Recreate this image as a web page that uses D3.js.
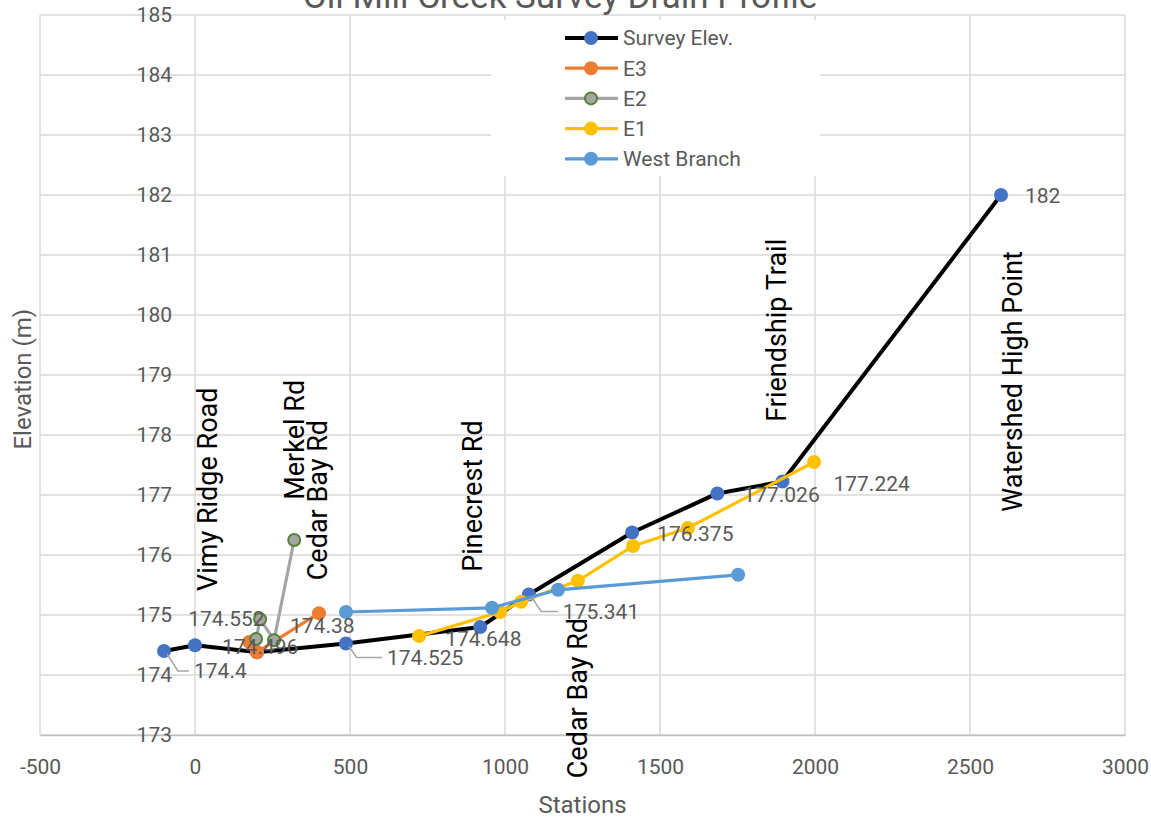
<!DOCTYPE html>
<html><head><meta charset="utf-8">
<script src="https://cdn.jsdelivr.net/npm/d3@7"></script>
<style>
html,body{margin:0;padding:0;background:#fff;}
svg text{font-family:Roboto, "Liberation Sans", sans-serif;}
</style></head>
<body>
<svg id="chart" width="1151" height="825"></svg>
<script>
// ---------- data ----------
const title = "Oil Mill Creek Survey Drain Profile";
const xTicks = [-500, 0, 500, 1000, 1500, 2000, 2500, 3000];
const yTicks = [173, 174, 175, 176, 177, 178, 179, 180, 181, 182, 183, 184, 185];

const surveyX = [-100, 0, 200, 487, 920, 1077, 1410, 1685, 1895, 2600];
const surveyY = [174.4, 174.496, 174.38, 174.525, 174.8, 175.341, 176.375, 177.026, 177.224, 182];
const e3X = [175, 200, 400];
const e3Y = [174.552, 174.38, 175.03];
const e2X = [197, 210, 255, 320];
const e2Y = [174.6, 174.93, 174.58, 176.25];
const e1X = [723, 984, 1052, 1235, 1413, 1590, 1997];
const e1Y = [174.648, 175.05, 175.22, 175.57, 176.15, 176.45, 177.55];
const wbX = [487, 958, 1171, 1752];
const wbY = [175.05, 175.12, 175.42, 175.67];

const seriesNames = ["Survey Elev.", "E3", "E2", "E1", "West Branch"];

// road annotations: name, station of baseline, elevation where text starts
const roadNames = ["Vimy Ridge Road", "Merkel Rd", "Cedar Bay Rd", "Pinecrest Rd", "Cedar Bay Rd", "Friendship Trail", "Watershed High Point"];
const roadStation = [70, 352, 425, 926, 1265, 1906, 2668];
const roadElev = [175.4, 176.92, 175.58, 175.72, 172.28, 178.22, 176.72];

// data labels: series index, point index
const labelSeries = [0, 0, 1, 0, 0, 3, 0, 0, 0, 0, 0];
const labelPoint  = [0, 1, 0, 2, 3, 0, 5, 6, 7, 8, 9];

// ---------- layout / style ----------
const plot = {left: 40, right: 1125, top: 15, bottom: 735};
const styles = [
  {line: "#000000", lw: 4, fill: "#4472C4", stroke: "#4472C4", sw: 0},
  {line: "#ED7D31", lw: 3.2, fill: "#ED7D31", stroke: "#ED7D31", sw: 0},
  {line: "#A5A5A5", lw: 3.2, fill: "#A5A5A5", stroke: "#548235", sw: 2},
  {line: "#FFC000", lw: 3.2, fill: "#FFC000", stroke: "#FFC000", sw: 0},
  {line: "#5B9BD5", lw: 3.2, fill: "#5B9BD5", stroke: "#5B9BD5", sw: 0}
];
// label offsets (px) from point to text start / vertical centre, and leader flag
const labelDx = [30, 27, -61, 33, 41, 26, 34, 25, 26, 51, 24];
const labelDy = [20, 1, -23, -27, 14, 3, 17, 1, 1, 2, 1];
const labelLeader = [true, false, false, false, true, false, true, false, false, false, false];

const series = [
  surveyX.map((x, i) => ({x, y: surveyY[i]})),
  e3X.map((x, i) => ({x, y: e3Y[i]})),
  e2X.map((x, i) => ({x, y: e2Y[i]})),
  e1X.map((x, i) => ({x, y: e1Y[i]})),
  wbX.map((x, i) => ({x, y: wbY[i]}))
];

const svg = d3.select("#chart");
const x = d3.scaleLinear().domain([-500, 3000]).range([plot.left, plot.right]);
const y = d3.scaleLinear().domain([173, 185]).range([plot.bottom, plot.top]);

const grey = "#595959";
const gridC = "#D9D9D9";

// gridlines
const g = svg.append("g");
g.selectAll("line.h").data(yTicks).join("line")
  .attr("x1", plot.left).attr("x2", plot.right)
  .attr("y1", d => y(d)).attr("y2", d => y(d))
  .attr("stroke", gridC).attr("stroke-width", 1.5);
g.selectAll("line.v").data(xTicks).join("line")
  .attr("y1", plot.top).attr("y2", plot.bottom)
  .attr("x1", d => x(d)).attr("x2", d => x(d))
  .attr("stroke", gridC).attr("stroke-width", 1.5);

// x axis
const xAxis = svg.append("g").attr("transform", `translate(0,${plot.bottom})`)
  .call(d3.axisBottom(x).tickValues(xTicks).tickSize(0).tickPadding(24).tickFormat(d => String(d)));
xAxis.select(".domain").attr("stroke", "#BFBFBF").attr("stroke-width", 1.5);
xAxis.selectAll("text").attr("fill", grey).attr("font-size", 21).attr("font-family", "Roboto");

// y axis (crosses at station 0)
const yAxis = svg.append("g").attr("transform", `translate(${x(0) - 23},0)`)
  .call(d3.axisLeft(y).tickValues(yTicks).tickSize(0).tickPadding(0).tickFormat(d => String(d)));
yAxis.select(".domain").remove();
yAxis.selectAll("text").attr("fill", grey).attr("font-size", 21).attr("font-family", "Roboto");

// title
svg.append("text").attr("x", 560).attr("y", 8).attr("text-anchor", "middle")
  .attr("font-size", 35).attr("fill", grey).text(title);

// axis titles
svg.append("text").attr("x", x(1250)).attr("y", 813).attr("text-anchor", "middle")
  .attr("font-size", 24).attr("fill", grey).text("Stations");
svg.append("text").attr("transform", `translate(31,${y(178.93)}) rotate(-90)`)
  .attr("text-anchor", "middle").attr("font-size", 24).attr("fill", grey).text("Elevation (m)");

// road annotations
svg.append("g").selectAll("text").data(roadNames).join("text")
  .attr("transform", (d, i) => `translate(${x(roadStation[i])},${y(roadElev[i])}) rotate(-90)`)
  .attr("font-family", "Liberation Sans, Arial, sans-serif")
  .attr("font-size", 27).attr("fill", "#000").text(d => d);

// legend background
const leg = svg.append("g");
leg.append("rect").attr("x", 491).attr("y", 20).attr("width", 329).attr("height", 156).attr("fill", "#fff");

// series
const line = d3.line().x(d => x(d.x)).y(d => y(d.y));
series.forEach((s, i) => {
  const st = styles[i];
  const sg = svg.append("g");
  sg.append("path").datum(s).attr("d", line).attr("fill", "none")
    .attr("stroke", st.line).attr("stroke-width", st.lw).attr("stroke-linejoin", "round");
  sg.selectAll("circle").data(s).join("circle")
    .attr("cx", d => x(d.x)).attr("cy", d => y(d.y))
    .attr("r", st.sw ? 6 : 7)
    .attr("fill", st.fill).attr("stroke", st.stroke).attr("stroke-width", st.sw);
});

// data labels
const lg = svg.append("g");
labelSeries.forEach((si, k) => {
  const p = series[si][labelPoint[k]];
  const px = x(p.x), py = y(p.y);
  const tx = px + labelDx[k], ty = py + labelDy[k];
  if (labelLeader[k]) {
    lg.append("path")
      .attr("d", `M${px + 3},${py + 3}L${px + 3 + (labelDy[k]) * 0.55},${ty}L${tx - 5},${ty}`)
      .attr("fill", "none").attr("stroke", "#A6A6A6").attr("stroke-width", 1.5);
  }
  lg.append("text").attr("x", tx).attr("y", ty).attr("dy", "0.35em")
    .attr("font-size", 21).attr("fill", grey).text(String(p.y));
});

// legend entries
seriesNames.forEach((n, i) => {
  const st = styles[i];
  const ly = 38 + i * 30.2;
  leg.append("line").attr("x1", 565).attr("x2", 618).attr("y1", ly).attr("y2", ly)
    .attr("stroke", st.line).attr("stroke-width", st.lw);
  leg.append("circle").attr("cx", 591).attr("cy", ly).attr("r", st.sw ? 6 : 7)
    .attr("fill", st.fill).attr("stroke", st.stroke).attr("stroke-width", st.sw);
  leg.append("text").attr("x", 623).attr("y", ly).attr("dy", "0.35em")
    .attr("font-size", 21).attr("fill", grey).text(n);
});
</script>
</body></html>
